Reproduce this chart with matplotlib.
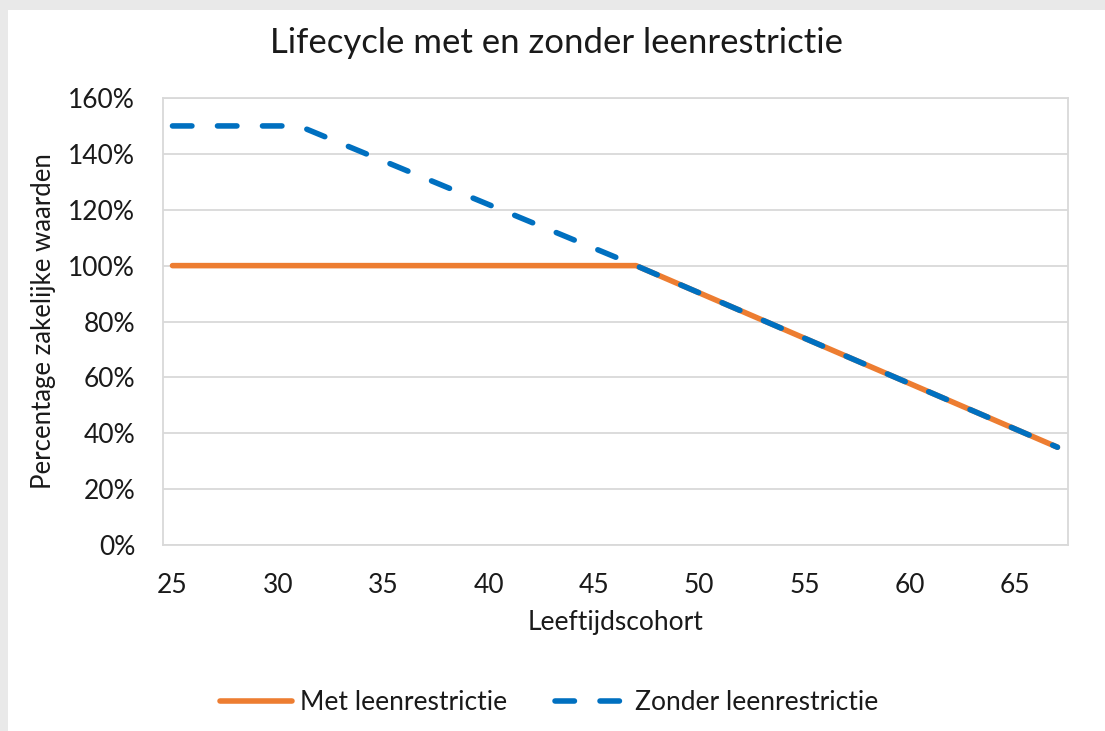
import matplotlib.pyplot as plt
from matplotlib.patches import Rectangle
from matplotlib.ticker import PercentFormatter

# data (breakpoints of the glide paths)
ages_met = [25, 47, 67]
met = [100, 100, 35]
ages_zonder = [25, 31, 47, 67]
zonder = [150, 150, 100, 35]
xticks = [25, 30, 35, 40, 45, 50, 55, 60, 65]
yticks = [0, 20, 40, 60, 80, 100, 120, 140, 160]

plt.rcParams['font.family'] = ['Lato', 'DejaVu Sans']

W, H = 1105, 731
fig = plt.figure(figsize=(W / 100, H / 100), dpi=100)
fig.patch.set_facecolor('#e9e9e9')
fig.patches.append(Rectangle((8 / W, 0), 1, 1 - 10 / H, transform=fig.transFigure,
                             facecolor='white', edgecolor='none', zorder=-10))

ax = fig.add_axes([163 / W, 1 - 545 / H, (1068 - 163) / W, (545 - 98) / H])
ax.set_facecolor('white')

ax.plot(ages_met, met, color='#ED7D31', lw=4.0, solid_capstyle='round',
        label='Met leenrestrictie', zorder=3)
ax.plot(ages_zonder, zonder, color='#0070C0', lw=4.0, dashes=(3.5, 4.6),
        dash_capstyle='round', label='Zonder leenrestrictie', zorder=4)

ax.set_xlim(24.55, 67.5)
ax.set_ylim(0, 160)
ax.set_xticks(xticks)
ax.set_yticks(yticks)
ax.yaxis.set_major_formatter(PercentFormatter(decimals=0))
ax.grid(axis='y', color='#d9d9d9', lw=1.3)
ax.set_axisbelow(True)
for s in ax.spines.values():
    s.set_color('#d9d9d9')
    s.set_linewidth(1.3)
ax.tick_params(length=0, labelsize=19, colors='#1a1a1a')
ax.tick_params(axis='x', pad=20)
ax.tick_params(axis='y', pad=20)

# title sits centred on the whole chart, not on the plot area
fig.text(556 / W, 1 - 53 / H, 'Lifecycle met en zonder leenrestrictie', fontsize=25,
         color='#1a1a1a', ha='center', va='baseline')
ax.set_xlabel('Leeftijdscohort', fontsize=19, color='#1a1a1a', labelpad=9)
ax.set_ylabel('Percentage zakelijke waarden', fontsize=18.5, color='#1a1a1a', labelpad=9)

leg = fig.legend(loc='center', bbox_to_anchor=(549 / W, 1 - 703 / H), ncol=2,
                 frameon=False, fontsize=19, handlelength=2.75, columnspacing=1.8,
                 handletextpad=0.3)
for t in leg.get_texts():
    t.set_color('#1a1a1a')

fig.savefig('out.png', dpi=100, facecolor=fig.get_facecolor())
